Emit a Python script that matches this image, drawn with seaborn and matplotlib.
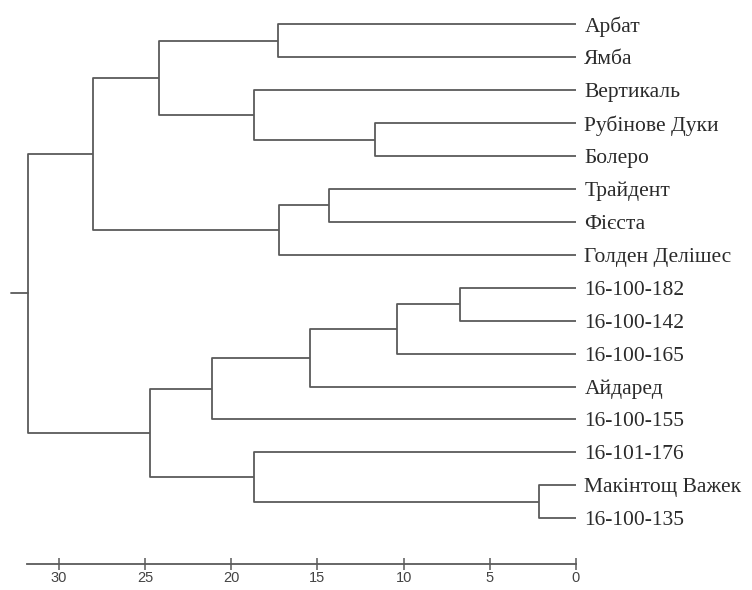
import matplotlib
matplotlib.use("Agg")
import matplotlib.pyplot as plt
import seaborn as sns

# leaves in dendrogram order (top to bottom)
leaves = [
    "Арбат", "Ямба", "Вертикаль", "Рубінове Дуки", "Болеро",
    "Трайдент", "Фієста", "Голден Делішес",
    "16-100-182", "16-100-142", "16-100-165", "Айдаред",
    "16-100-155", "16-101-176", "Макінтощ Важек", "16-100-135",
]

# merges like a scipy linkage: new node ids start at len(leaves)
merge_left = [14, 8, 17, 3, 5, 18, 20, 0, 2, 13, 21, 23, 26, 27, 29]
merge_right = [15, 9, 10, 4, 6, 11, 7, 1, 19, 16, 12, 24, 25, 22, 28]
merge_dist = [2.15, 6.7, 10.4, 11.65, 14.3, 15.4, 17.2, 17.3, 18.7, 18.7,
              21.1, 24.2, 24.7, 28.0, 31.8]

xticks = [30, 25, 20, 15, 10, 5, 0]

sns.set_theme(style="white")
plt.rcParams["font.family"] = ["Liberation Serif", "DejaVu Serif"]

line_col = "#5a5a5a"

fig = plt.figure(figsize=(7.52, 5.90), dpi=100)
ax = fig.add_axes([10 / 752, 26 / 590, 566 / 752, 564 / 590])

# node positions: leaves sit at height 0, row index = leaf order
pos = {i: (0.0, float(i)) for i in range(len(leaves))}
n = len(leaves)
for k, (a, b, d) in enumerate(zip(merge_left, merge_right, merge_dist)):
    xa, ya = pos[a]
    xb, yb = pos[b]
    ax.plot([xa, d, d, xb], [ya, ya, yb, yb], color=line_col, lw=1.3,
            solid_capstyle="butt")
    pos[n + k] = (d, (ya + yb) / 2)

# stub at the root
root_x, root_y = pos[n + len(merge_dist) - 1]
ax.plot([root_x, root_x + 1.0], [root_y, root_y], color=line_col, lw=1.3)

ax.set_xlim(32.83, 0)
ax.set_ylim(16.39, -0.74)

ax.set_yticks(range(n))
ax.set_yticklabels(leaves, fontsize=15.5, color="#2a2a2a")
ax.yaxis.tick_right()
ax.tick_params(axis="y", length=0, pad=6)

ax.set_xticks(xticks)
ax.set_xticklabels([str(t) for t in xticks], fontsize=10.5,
                   family=["Liberation Sans", "DejaVu Sans"], color="#444444")
ax.tick_params(axis="x", direction="inout", length=8, width=1.1,
               color=line_col, pad=1, bottom=True)

sns.despine(ax=ax, left=True, top=True, right=True)
ax.spines["bottom"].set_color(line_col)
ax.spines["bottom"].set_linewidth(1.3)
ax.spines["bottom"].set_bounds(31.85, 0)
ax.grid(False)

fig.savefig("out.png", dpi=100)
